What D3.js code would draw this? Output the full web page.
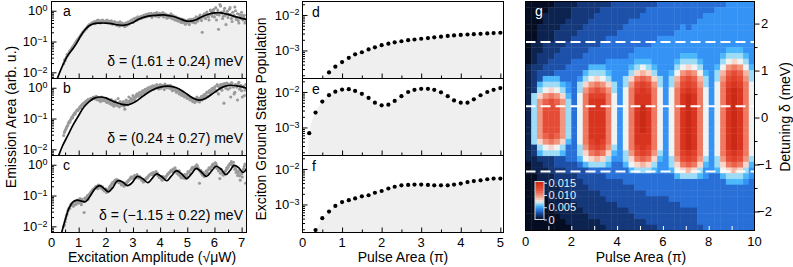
<!DOCTYPE html>
<html>
<head>
<meta charset="utf-8">
<script src="https://cdn.jsdelivr.net/npm/d3@7"></script>
<style>
  body { margin: 0; background: #fff; }
  svg { display: block; font-family: "Liberation Sans", Arial, Helvetica, sans-serif; }
</style>
</head>
<body>
<svg id="fig" width="793" height="267"></svg>
<script>
// ---------------- data ----------------

// a-c : emission area (log10, arb. u.) sampled along the excitation amplitude (sqrt uW)
// two interleaved sweeps: ampGrid / ampGrid2
const ampGrid = d3.range(0.45, 7.16, 0.05);
const ampGrid2 = d3.range(0.475, 7.14, 0.05);
const emissionA = [
  -1.72, -1.62, -1.50, -1.45, -1.36, -1.30, -1.22, -1.16, -1.10, -1.02, -0.96,
  -0.90, -0.84, -0.78, -0.70, -0.66, -0.60, -0.56, -0.50, -0.48, -0.44, -0.42,
  -0.40, -0.42, -0.36, -0.38, -0.34, -0.40, -0.36, -0.32, -0.38, -0.35, -0.30,
  -0.36, -0.40, -0.33, -0.44, -0.38, -0.42, -0.47, -0.40, -0.50, -0.44, -0.40,
  -0.46, -0.52, -0.42, -0.38, -0.44, -0.35, -0.30, -0.38, -0.28, -0.24, -0.30,
  -0.22, -0.26, -0.18, -0.22, -0.15, -0.20, -0.12, -0.18, -0.10, -0.16, -0.22,
  -0.14, -0.08, -0.18, -0.12, -0.20, -0.10, -0.15, -0.06, -0.18, -0.12, -0.24,
  -0.16, -0.20, -0.10, -0.26, -0.18, -0.30, -0.22, -0.28, -0.35, -0.26, -0.32,
  -0.38, -0.30, -0.42, -0.34, -0.40, -0.28, -0.36, -0.32, -0.26, -0.40, -0.22,
  -0.30, -0.18, -0.26, -0.70, -0.14, -0.22, -0.08, -0.16, -0.30, 0.02, -0.10,
  -0.02, -0.20, 0.10, -0.12, -0.60, 0.20, -0.05, -0.25, 0.00, -0.15, -0.08,
  -0.22, 0.05, -0.12, -0.35, -0.18, 0.12, -0.28, -0.10, -0.40, -0.20, -0.05,
  -0.30, -0.15, -0.35
];
const emissionA2 = [
  -1.60, -1.55, -1.42, -1.40, -1.30, -1.25, -1.18, -1.12, -1.05, -0.98, -0.92,
  -0.86, -0.80, -0.74, -0.68, -0.62, -0.58, -0.52, -0.46, -0.44, -0.40, -0.38,
  -0.35, -0.38, -0.32, -0.30, -0.36, -0.33, -0.30, -0.36, -0.34, -0.32, -0.36,
  -0.34, -0.38, -0.36, -0.40, -0.35, -0.45, -0.38, -0.42, -0.36, -0.48, -0.44,
  -0.42, -0.40, -0.48, -0.36, -0.40, -0.32, -0.36, -0.26, -0.32, -0.26, -0.20,
  -0.25, -0.20, -0.24, -0.16, -0.20, -0.12, -0.16, -0.10, -0.14, -0.08, -0.12,
  -0.10, -0.16, -0.06, -0.14, -0.08, -0.16, -0.10, -0.20, -0.10, -0.16, -0.14,
  -0.22, -0.14, -0.24, -0.16, -0.28, -0.20, -0.32, -0.24, -0.30, -0.38, -0.28,
  -0.34, -0.44, -0.36, -0.30, -0.45, -0.32, -0.28, -0.38, -0.30, -0.20, -0.34,
  -0.24, -0.14, -0.32, -0.20, -0.10, -0.26, -0.04, -0.20, -0.12, -0.02, -0.18,
  0.05, -0.10, -0.30, 0.02, -0.14, 0.15, -0.08, -0.18, 0.08, -0.45, -0.02,
  -0.12, 0.10, -0.25, -0.05, -0.15, 0.00, -0.22, -0.32, -0.12, -0.25, -0.15,
  -0.22, -0.40
];
const emissionB = [
  -1.55, -1.40, -1.30, -1.22, -1.10, -1.05, -0.95, -0.90, -0.82, -0.78, -0.72,
  -0.70, -0.62, -0.58, -0.52, -0.50, -0.45, -0.42, -0.38, -0.40, -0.35, -0.34,
  -0.30, -0.36, -0.28, -0.40, -0.32, -0.45, -0.30, -0.38, -0.42, -0.35, -0.48,
  -0.40, -0.52, -0.38, -0.50, -0.60, -0.42, -0.55, -0.35, -0.62, -0.48, -0.58,
  -0.45, -0.70, -0.40, -0.55, -0.30, -0.50, -0.42, -0.25, -0.40, -0.30, -0.20,
  -0.28, -0.15, -0.22, -0.10, -0.18, -0.05, -0.12, 0.00, -0.08, -0.02, 0.04,
  -0.05, 0.06, 0.00, 0.08, -0.04, 0.10, 0.02, 0.05, -0.06, 0.08, 0.00,
  0.06, -0.02, 0.04, -0.10, 0.00, -0.08, -0.15, -0.05, -0.20, -0.12, -0.25,
  -0.18, -0.30, -0.22, -0.35, -0.28, -0.40, -0.32, -0.45, -0.36, -0.42, -0.30,
  -0.38, -0.46, -0.32, -0.40, -0.25, -0.35, -0.18, -0.28, -0.12, -0.20, -0.05,
  -0.15, 0.00, -0.08, 0.10, -0.20, 0.05, -0.02, 0.12, -0.50, 0.06, 0.15,
  -0.05, 0.10, -0.30, 0.15, 0.02, -0.15, 0.08, -0.40, 0.18, 0.00, -0.10,
  0.05, -0.25, 0.10
];
const emissionB2 = [
  -1.45, -1.35, -1.25, -1.15, -1.12, -1.00, -0.98, -0.86, -0.85, -0.75, -0.74,
  -0.66, -0.65, -0.55, -0.56, -0.48, -0.46, -0.40, -0.42, -0.36, -0.38, -0.32,
  -0.34, -0.30, -0.38, -0.34, -0.40, -0.36, -0.42, -0.34, -0.40, -0.46, -0.38,
  -0.46, -0.44, -0.55, -0.46, -0.52, -0.48, -0.58, -0.50, -0.45, -0.56, -0.52,
  -0.60, -0.50, -0.48, -0.45, -0.42, -0.35, -0.38, -0.30, -0.34, -0.24, -0.26,
  -0.20, -0.24, -0.14, -0.16, -0.08, -0.12, -0.04, -0.06, 0.02, -0.04, 0.06,
  0.02, 0.04, 0.10, 0.03, 0.06, -0.02, 0.08, 0.04, 0.12, 0.02, 0.06,
  0.02, 0.08, -0.04, 0.02, -0.06, -0.02, -0.12, -0.10, -0.16, -0.22, -0.18,
  -0.26, -0.24, -0.30, -0.26, -0.34, -0.38, -0.36, -0.40, -0.48, -0.38, -0.44,
  -0.34, -0.40, -0.28, -0.30, -0.22, -0.26, -0.14, -0.16, -0.08, -0.12, -0.02,
  -0.06, 0.04, -0.12, 0.06, 0.00, 0.10, -0.08, 0.05, 0.14, -0.02, 0.08,
  0.12, 0.00, 0.16, 0.05, -0.20, 0.10, 0.02, 0.14, -0.05, 0.08, -0.30,
  0.02, -0.08
];
const emissionC = [
  -2.00, -1.85, -1.65, -1.50, -1.40, -1.30, -1.25, -1.35, -1.20, -1.28, -1.15,
  -1.22, -1.10, -1.30, -1.18, -1.55, -1.15, -1.05, -1.12, -0.95, -0.90, -0.85,
  -0.82, -0.75, -0.70, -0.78, -0.72, -0.68, -0.75, -0.80, -0.85, -0.78, -0.88,
  -0.80, -0.70, -0.65, -0.58, -0.55, -0.50, -0.48, -0.55, -0.52, -0.60, -0.62,
  -0.58, -0.65, -0.60, -0.55, -0.50, -0.45, -0.40, -0.42, -0.35, -0.38, -0.32,
  -0.40, -0.38, -0.45, -0.50, -0.55, -0.48, -0.42, -0.40, -0.35, -0.30, -0.28,
  -0.25, -0.30, -0.22, -0.28, -0.35, -0.40, -0.45, -0.38, -0.48, -0.42, -0.35,
  -0.30, -0.25, -0.18, -0.22, -0.15, -0.10, -0.18, -0.25, -0.20, -0.30, -0.35,
  -0.40, -0.32, -0.45, -0.38, -0.25, -0.30, -0.15, -0.08, -0.12, -0.05, 0.00,
  -0.10, -0.60, -0.18, -0.30, -0.25, -0.35, -0.20, -0.28, -0.10, -0.15, -0.05,
  0.02, -0.08, 0.05, -0.12, -0.20, -0.45, -0.15, -0.25, -0.30, -0.22, -0.10,
  -0.08, 0.00, 0.05, -0.02, 0.08, -0.15, -0.25, -0.35, -0.20, -0.50, -0.30,
  -0.18, -0.05, -0.60
];
const emissionC2 = [
  -1.95, -1.75, -1.60, -1.45, -1.42, -1.32, -1.28, -1.22, -1.30, -1.18, -1.25,
  -1.15, -1.25, -1.12, -1.20, -1.08, -1.10, -1.00, -0.98, -0.92, -0.86, -0.80,
  -0.78, -0.72, -0.74, -0.66, -0.70, -0.76, -0.72, -0.82, -0.80, -0.90, -0.84,
  -0.76, -0.72, -0.62, -0.60, -0.52, -0.56, -0.50, -0.58, -0.56, -0.66, -0.64,
  -0.70, -0.62, -0.56, -0.52, -0.48, -0.40, -0.44, -0.38, -0.36, -0.42, -0.40,
  -0.44, -0.42, -0.50, -0.56, -0.52, -0.46, -0.44, -0.36, -0.32, -0.30, -0.32,
  -0.28, -0.26, -0.32, -0.36, -0.42, -0.38, -0.50, -0.44, -0.40, -0.38, -0.30,
  -0.26, -0.22, -0.20, -0.14, -0.18, -0.22, -0.28, -0.32, -0.36, -0.42, -0.38,
  -0.44, -0.36, -0.30, -0.22, -0.26, -0.18, -0.10, -0.14, -0.08, -0.12, -0.04,
  -0.16, -0.22, -0.28, -0.34, -0.38, -0.30, -0.22, -0.16, -0.12, -0.08, 0.00,
  -0.04, 0.06, -0.02, -0.10, -0.16, -0.28, -0.22, -0.34, -0.26, -0.18, -0.12,
  -0.02, 0.04, 0.10, 0.00, -0.06, -0.12, -0.20, -0.28, -0.36, -0.22, -0.40,
  -0.12, 0.02
];

// fitted curves (amplitude, log10 emission)
const fitAmpA = [0.15, 0.4, 0.6, 0.8, 0.92, 1.1, 1.25, 1.4, 1.6, 1.8, 2.0, 2.2, 2.45, 2.7, 2.95, 3.2, 3.45, 3.7, 3.95, 4.2, 4.45, 4.7, 4.9, 5.1, 5.3, 5.5, 5.75, 6.0, 6.25, 6.5, 6.75, 7.0, 7.2];
const fitLogA = [-2.35, -1.8, -1.45, -1.22, -1.06, -0.78, -0.6, -0.48, -0.41, -0.4, -0.4, -0.42, -0.46, -0.47, -0.4, -0.28, -0.2, -0.16, -0.14, -0.14, -0.18, -0.25, -0.32, -0.34, -0.3, -0.21, -0.12, -0.07, -0.07, -0.12, -0.19, -0.25, -0.28];
const fitAmpB = [0.2, 0.4, 0.6, 0.8, 1.0, 1.2, 1.4, 1.6, 1.8, 2.0, 2.3, 2.6, 2.85, 3.1, 3.4, 3.7, 4.0, 4.3, 4.6, 4.9, 5.2, 5.45, 5.7, 6.0, 6.3, 6.6, 6.9, 7.2];
const fitLogB = [-2.35, -1.9, -1.55, -1.2, -0.9, -0.62, -0.44, -0.33, -0.3, -0.33, -0.45, -0.54, -0.55, -0.45, -0.25, -0.08, 0.02, 0.05, 0.0, -0.15, -0.33, -0.4, -0.33, -0.15, 0.02, 0.08, 0.05, -0.02];
const fitAmpC = [0.33, 0.5, 0.65, 0.8, 0.95, 1.1, 1.25, 1.4, 1.6, 1.77, 1.95, 2.1, 2.25, 2.43, 2.6, 2.8, 2.95, 3.16, 3.35, 3.55, 3.7, 3.86, 4.05, 4.25, 4.4, 4.6, 4.8, 4.98, 5.15, 5.33, 5.5, 5.7, 5.88, 6.06, 6.25, 6.42, 6.58, 6.72, 6.9, 7.05, 7.2];
const fitLogC = [-2.35, -1.8, -1.4, -1.2, -1.15, -1.18, -1.2, -1.05, -0.78, -0.68, -0.78, -0.88, -0.75, -0.52, -0.55, -0.68, -0.6, -0.38, -0.45, -0.58, -0.45, -0.3, -0.38, -0.52, -0.38, -0.2, -0.3, -0.45, -0.3, -0.12, -0.22, -0.38, -0.22, -0.05, -0.15, -0.32, -0.18, -0.02, -0.1, -0.25, -0.1];

const deltaNotes = ["δ = (1.61 ± 0.24) meV", "δ = (0.24 ± 0.27) meV", "δ = (−1.15 ± 0.22) meV"];
const deltaValues = [1.61, 0.24, -1.15];

// d-f : exciton ground state population vs pulse area (pi)
const pulseArea = [0.17, 0.33, 0.5, 0.67, 0.83, 1, 1.17, 1.33, 1.5, 1.67, 1.83, 2, 2.17, 2.33, 2.5, 2.67, 2.83, 3, 3.17, 3.33, 3.5, 3.67, 3.83, 4, 4.17, 4.33, 4.5, 4.67, 4.83, 5];
const popD = [null, null, null, 0.00024, 0.00035, 0.00047, 0.00062, 0.00078, 0.00089, 0.00107, 0.00123, 0.00141, 0.00155, 0.00170, 0.00182, 0.00195, 0.00204, 0.00214, 0.00224, 0.00234, 0.00245, 0.00257, 0.00266, 0.00275, 0.00282, 0.00288, 0.00295, 0.00302, 0.00309, 0.00316];
const popE = [0.00069, 0.00263, 0.00537, 0.00813, 0.0102, 0.0117, 0.0120, 0.0107, 0.0089, 0.0068, 0.0050, 0.0042, 0.0044, 0.0056, 0.0076, 0.0100, 0.0115, 0.0123, 0.0123, 0.0115, 0.0098, 0.0076, 0.0058, 0.0050, 0.0050, 0.0062, 0.0081, 0.0100, 0.0115, 0.0129];
const popF = [null, 0.00019, 0.00041, 0.00063, 0.00091, 0.00117, 0.00132, 0.00148, 0.00170, 0.00182, 0.00214, 0.00240, 0.00282, 0.00316, 0.00347, 0.00355, 0.00363, 0.00363, 0.00355, 0.00347, 0.00347, 0.00347, 0.00363, 0.00389, 0.00427, 0.00457, 0.00479, 0.00513, 0.00537, 0.00537];
const popOnset = [0.44, 0.14, 0.26];   // pulse area where the simulated curve leaves the bottom

// g : population map, pulse area 0..10 (40 columns) x detuning 2.47..-2.405 meV (40 rows)
// each character is a level index into heatLevelValues
const heatLevelValues = [0, 0.0009, 0.0018, 0.0027, 0.0036, 0.0046, 0.0055, 0.0064, 0.0073, 0.0082, 0.0091, 0.0100, 0.0109, 0.0118, 0.0128, 0.0137, 0.0146, 0.0155];
const heatRows = [
  "0000 0111 1222 2223 3333 3334 4444 4444 4445 5555",
  "0000 1111 2222 2333 3333 3444 4444 4444 4555 5555",
  "0001 1111 2222 3333 3333 4444 4444 4445 5555 5555",
  "0001 1112 2223 3333 3344 4444 4444 4455 5555 5555",
  "0011 1122 2233 3333 3444 4444 4445 4555 5555 5555",
  "0011 1222 2333 3333 4444 4444 4455 5555 5555 5555",
  "0011 1222 3333 3344 4444 4445 5555 5555 5555 5555",
  "0112 2223 3333 3444 4444 4455 5555 5555 5555 5555",
  "0112 2233 3334 4444 4445 5555 5555 5555 5556 6655",
  "0122 2333 3344 4444 4455 5555 5556 6655 5567 7765",
  "0122 3333 4444 4455 5556 6655 5567 7765 5578 9875",
  "1223 3334 4446 6655 5567 8765 5578 9875 568b cb86",
  "1233 3444 4467 7765 5579 a975 568b cb86 57ad eda7",
  "1236 6644 4578 9875 579c dc97 57ad eda7 57be feb7",
  "1267 7765 479b cb97 57be feb7 57be feb7 58cf gfc8",
  "1278 9875 47bd edb7 58cf gfc8 58cf gfc8 58cg hgc8",
  "179b cb96 48cf ffc8 58cg ggc8 58cg hgc8 58cg hgc8",
  "17bd edb7 48cg ggc8 58cg ggc8 58cg hgc8 58cg hgc8",
  "17be eeb7 48cg ggc8 58cg hgc8 58cg hgc8 58cg hgc8",
  "17be eeb7 48cg ggc8 58cg hgc8 58cg hgc8 58cg hgc8",
  "17be eeb7 48cg ggc8 58cg hgc8 58cg hgc8 58cg hgc8",
  "17be eeb7 48cg ggc8 58cg hgc8 58cg hgc8 58cg hgc8",
  "17be eeb7 48cg ggc8 58cg hgc8 58cg hgc8 58cg hgc8",
  "17bd edb7 48cg ggc8 58cg ggc8 58cg hgc8 58cg hgc8",
  "179b cb96 48cf gfc8 58cg ggc8 58cg hgc8 58cg hgc8",
  "1278 9874 47be feb7 58cf gfc8 58cg hgc8 58cg hgc8",
  "1267 7764 479c dc96 57be feb7 58cf gfc8 58cf gfc8",
  "1122 2334 4689 a975 579c dc96 57be feb7 57be feb7",
  "0112 2333 3467 7764 4689 a975 579c dc96 579c dc96",
  "0111 2223 3334 4444 4467 7765 5689 a975 5689 a975",
  "0011 1222 2333 3344 4444 4444 4467 7765 4467 7765",
  "0011 1222 2233 3333 3444 4444 4444 4444 4446 6654",
  "0001 1122 2223 3333 3334 4444 4444 4444 4444 4444",
  "0001 1112 2222 2333 3333 3444 4444 4444 4444 4444",
  "0000 1111 2222 2233 3333 3333 3444 4444 4444 4444",
  "0000 0111 1222 2222 3333 3333 3334 4444 4444 4444",
  "0000 0111 1122 2222 2233 3333 3333 3344 4444 4444",
  "0000 0011 1112 2222 2223 3333 3333 3344 4444 4444",
  "0000 0001 1111 1222 2222 2333 3333 3344 4444 4444",
  "0000 0000 1111 1122 2222 2223 3333 3334 4444 4444"
];
const heatColorStops = ["#050d22", "#0c2350", "#14387a", "#1d50a8", "#2870d8", "#3593f5", "#4cb8fb", "#9cdcf6", "#eef2f3", "#f9d6cc", "#f6b4a2", "#f2957e", "#ee7860", "#ea604a", "#e54c36", "#e0402a", "#d8341f", "#c82a16"];
const colorbarTicks = [0, 0.005, 0.010, 0.015];
const colorbarLabels = ["0", "0.005", "0.010", "0.015"];

// ---------------- drawing ----------------
const svg = d3.select("#fig");
const L = {x0: 51.5, x1: 246.5}, M = {x0: 302.5, x1: 503.5}, H = {x0: 525.5, x1: 754.5, y0: 1.5, y1: 230.5};
const top0 = 1.5, ph = 77;

const xAmp = d3.scaleLinear().domain([0, 7.18]).range([L.x0, L.x1]);
const xPulse = d3.scaleLinear().domain([0, 5.08]).range([M.x0, M.x1]);

function minorLog(lo, hi) {
  const out = [];
  for (let e = Math.floor(Math.log10(lo)); e <= Math.ceil(Math.log10(hi)); e++)
    for (let m = 2; m <= 9; m++) { const v = m * 10 ** e; if (v > lo && v < hi) out.push(v); }
  return out;
}

function tickAxis(g, axis, tx, ty) {
  g.append("g").attr("transform", `translate(${tx},${ty})`).call(axis)
    .call(a => a.select(".domain").remove())
    .call(a => a.selectAll("text").remove());
}

function powLabel(g, x, y, exp) {
  const t = g.append("text").attr("x", x).attr("y", y).attr("dy", "0.36em")
    .attr("text-anchor", "end").attr("font-size", 13).attr("fill", "#000");
  t.append("tspan").text("10");
  t.append("tspan").attr("dy", "-0.5em").attr("font-size", 9).text(exp);
}

function clipFor(id, x, y, w, h) {
  svg.append("clipPath").attr("id", id).append("rect")
    .attr("x", x).attr("y", y).attr("width", w).attr("height", h);
  return `url(#${id})`;
}

// ---- left column a-c ----
const leftPanels = [
  {letter: "a", pts: emissionA, pts2: emissionA2, fx: fitAmpA, fy: fitLogA},
  {letter: "b", pts: emissionB, pts2: emissionB2, fx: fitAmpB, fy: fitLogB},
  {letter: "c", pts: emissionC, pts2: emissionC2, fx: fitAmpC, fy: fitLogC}
];
leftPanels.forEach((p, k) => {
  const t = top0 + k * ph, b = t + ph;
  const y = d3.scaleLog().domain([10 ** -2.2, 10 ** 0.3]).range([b, t]);
  const g = svg.append("g");
  const pg = g.append("g").attr("clip-path", clipFor("clipL" + k, L.x0, t, L.x1 - L.x0, ph));
  const fit = p.fx.map((x, i) => [x, 10 ** p.fy[i]]);
  const scatter = p.pts.map((v, i) => [ampGrid[i], v]).concat(p.pts2.map((v, i) => [ampGrid2[i], v]));

  pg.append("path").datum(fit).attr("fill", "#efefef")
    .attr("d", d3.area().x(d => xAmp(d[0])).y0(b).y1(d => y(d[1])).curve(d3.curveCatmullRom));
  pg.selectAll("circle").data(scatter).join("circle")
    .attr("cx", d => xAmp(d[0])).attr("cy", d => y(10 ** d[1]))
    .attr("r", 1.55).attr("fill", "#9a9a9a");
  pg.append("path").datum(fit).attr("fill", "none").attr("stroke", "#000").attr("stroke-width", 1.7)
    .attr("d", d3.line().x(d => xAmp(d[0])).y(d => y(d[1])).curve(d3.curveCatmullRom));

  tickAxis(g, d3.axisLeft(y).tickValues([1, 0.1, 0.01]).tickSize(-5), L.x0, 0);
  tickAxis(g, d3.axisLeft(y).tickValues(minorLog(10 ** -2.2, 10 ** 0.3)).tickSize(-2.5), L.x0, 0);
  tickAxis(g, d3.axisBottom(xAmp).tickValues(d3.range(1, 8)).tickSize(-5), 0, b);
  tickAxis(g, d3.axisBottom(xAmp).tickValues(d3.range(0.5, 7.1, 1)).tickSize(-3), 0, b);

  g.append("rect").attr("x", L.x0).attr("y", t).attr("width", L.x1 - L.x0).attr("height", ph)
    .attr("fill", "none").attr("stroke", "#000");

  [[1, "0"], [0.1, "−1"], [0.01, "−2"]].forEach(([v, e]) => powLabel(g, L.x0 - 4, y(v), e));

  g.append("text").attr("x", 63).attr("y", t + 14.5).attr("font-size", 14).text(p.letter);
  g.append("text").attr("x", 243).attr("y", t + 64.5).attr("text-anchor", "end")
    .attr("font-size", 14).text(deltaNotes[k]);

  if (k === 2) {
    d3.range(0, 8).forEach(v => g.append("text").attr("x", xAmp(v)).attr("y", b + 14.5)
      .attr("text-anchor", "middle").attr("font-size", 13).text(v));
  }
});

svg.append("text").attr("transform", "translate(16,117) rotate(-90)").attr("text-anchor", "middle")
  .attr("font-size", 14).text("Emission Area (arb. u.)");
svg.append("text").attr("x", 152).attr("y", 262).attr("text-anchor", "middle")
  .attr("font-size", 14).text("Excitation Amplitude (√μW)");

// ---- middle column d-f ----
const midPanels = [
  {letter: "d", pop: popD},
  {letter: "e", pop: popE},
  {letter: "f", pop: popF}
];
const popLo = 10 ** -3.79, popHi = 10 ** -1.62;
midPanels.forEach((p, k) => {
  const t = top0 + k * ph, b = t + ph;
  const y = d3.scaleLog().domain([popLo, popHi]).range([b, t]);
  const g = svg.append("g");
  const pg = g.append("g").attr("clip-path", clipFor("clipM" + k, M.x0, t, M.x1 - M.x0, ph));
  const pts = pulseArea.map((x, i) => [x, p.pop[i]]).filter(d => d[1] != null);
  const fillPts = [[popOnset[k], popLo]].concat(pts);

  pg.append("path").datum(fillPts).attr("fill", "#efefef")
    .attr("d", d3.area().x(d => xPulse(d[0])).y0(b).y1(d => y(d[1])).curve(d3.curveMonotoneX));
  pg.selectAll("circle").data(pts).join("circle")
    .attr("cx", d => xPulse(d[0])).attr("cy", d => y(d[1])).attr("r", 2.1).attr("fill", "#000");

  tickAxis(g, d3.axisLeft(y).tickValues([0.01, 0.001]).tickSize(-5), M.x0, 0);
  tickAxis(g, d3.axisLeft(y).tickValues(minorLog(popLo, popHi)).tickSize(-2.5), M.x0, 0);
  tickAxis(g, d3.axisBottom(xPulse).tickValues(d3.range(1, 6)).tickSize(-5), 0, b);
  tickAxis(g, d3.axisBottom(xPulse).tickValues(d3.range(0.5, 5, 1)).tickSize(-3), 0, b);

  g.append("rect").attr("x", M.x0).attr("y", t).attr("width", M.x1 - M.x0).attr("height", ph)
    .attr("fill", "none").attr("stroke", "#000");

  [[0.01, "−2"], [0.001, "−3"]].forEach(([v, e]) => powLabel(g, M.x0 - 3, y(v), e));
  g.append("text").attr("x", 312).attr("y", t + 15).attr("font-size", 14).text(p.letter);

  if (k === 2) {
    d3.range(0, 6).forEach(v => g.append("text").attr("x", xPulse(v)).attr("y", b + 14.5)
      .attr("text-anchor", "middle").attr("font-size", 13).text(v));
  }
});
svg.append("text").attr("transform", "translate(266,119) rotate(-90)").attr("text-anchor", "middle")
  .attr("font-size", 14).text("Exciton Ground State Population");
svg.append("text").attr("x", 403).attr("y", 262).attr("text-anchor", "middle")
  .attr("font-size", 14).text("Pulse Area (π)");

// ---- right panel g ----
const xHeat = d3.scaleLinear().domain([0, 10]).range([H.x0, H.x1]);
const yDet = d3.scaleLinear().domain([-2.405, 2.47]).range([H.y1, H.y0]);
const color = d3.scaleLinear().domain(heatLevelValues).range(heatColorStops).clamp(true);

const cells = [];
heatRows.forEach((row, i) => {
  row.replace(/ /g, "").split("").forEach((ch, j) => {
    cells.push({i, j, v: heatLevelValues[parseInt(ch, 18)]});
  });
});
const nRows = heatRows.length, nCols = 40;
const rowH = (2.47 + 2.405) / nRows, colW = 10 / nCols;
const hg = svg.append("g").attr("clip-path", clipFor("clipH", H.x0, H.y0, H.x1 - H.x0, H.y1 - H.y0));
hg.selectAll("rect").data(cells).join("rect")
  .attr("x", d => xHeat(d.j * colW))
  .attr("y", d => yDet(2.47 - d.i * rowH))
  .attr("width", d => xHeat((d.j + 1) * colW) - xHeat(d.j * colW) + 0.4)
  .attr("height", d => yDet(2.47 - (d.i + 1) * rowH) - yDet(2.47 - d.i * rowH) + 0.4)
  .attr("fill", d => color(d.v));

hg.selectAll("line.dash").data(deltaValues).join("line").attr("class", "dash")
  .attr("x1", H.x0).attr("x2", H.x1).attr("y1", d => yDet(d)).attr("y2", d => yDet(d))
  .attr("stroke", "#fff").attr("stroke-width", 2).attr("stroke-dasharray", "10,5");

// colorbar
const cbY = d3.scaleLinear().domain([0, 0.0155]).range([219.5, 181.5]);
const cbSteps = d3.range(0, 0.0155, 0.0155 / 60);
hg.selectAll("rect.cb").data(cbSteps).join("rect").attr("class", "cb")
  .attr("x", 535).attr("width", 9)
  .attr("y", d => cbY(d + 0.0155 / 60)).attr("height", d => cbY(d) - cbY(d + 0.0155 / 60) + 0.5)
  .attr("fill", d => color(d));
hg.append("rect").attr("x", 535).attr("y", 181.5).attr("width", 9).attr("height", 38)
  .attr("fill", "none").attr("stroke", "#d8d8d8");
const cbAxis = hg.append("g").attr("transform", "translate(544,0)")
  .call(d3.axisRight(cbY).tickValues(colorbarTicks).tickSize(3).tickPadding(1.5)
    .tickFormat((d, i) => colorbarLabels[i]));
cbAxis.select(".domain").remove();
cbAxis.selectAll("line").attr("stroke", "#e0e0e0");
cbAxis.selectAll("text").attr("fill", "#eeeeee").attr("font-size", 11)
  .attr("font-family", "Liberation Sans, Arial, sans-serif");

// inner white ticks along the bottom
const wt = svg.append("g").attr("transform", `translate(0,${H.y1})`)
  .call(d3.axisBottom(xHeat).tickValues(d3.range(1, 10)).tickSize(-4.5).tickFormat(""));
wt.select(".domain").remove();
wt.selectAll("line").attr("stroke", "#fff");

svg.append("rect").attr("x", H.x0).attr("y", H.y0).attr("width", H.x1 - H.x0).attr("height", H.y1 - H.y0)
  .attr("fill", "none").attr("stroke", "#000");

d3.range(0, 11, 2).forEach(v => svg.append("text").attr("x", xHeat(v)).attr("y", 246)
  .attr("text-anchor", "middle").attr("font-size", 13).text(v));

const ra = svg.append("g").attr("transform", `translate(${H.x1},0)`)
  .call(d3.axisRight(yDet).tickValues([-2, -1, 0, 1, 2]).tickSize(5).tickPadding(5).tickFormat(d3.format("d")));
ra.select(".domain").remove();
ra.selectAll("text").attr("text-anchor", "middle").attr("x", 10).attr("font-size", 13)
  .attr("font-family", "Liberation Sans, Arial, sans-serif");
tickAxis(svg, d3.axisRight(yDet).tickValues([-1.5, -0.5, 0.5, 1.5]).tickSize(3), H.x1, 0);

svg.append("text").attr("x", 535).attr("y", 16).attr("font-size", 14).attr("fill", "#fff").text("g");
svg.append("text").attr("transform", "translate(790,117) rotate(-90)").attr("text-anchor", "middle")
  .attr("font-size", 14).text("Detuning δ (meV)");
svg.append("text").attr("x", 641).attr("y", 262).attr("text-anchor", "middle")
  .attr("font-size", 14).text("Pulse Area (π)");
</script>
</body>
</html>
